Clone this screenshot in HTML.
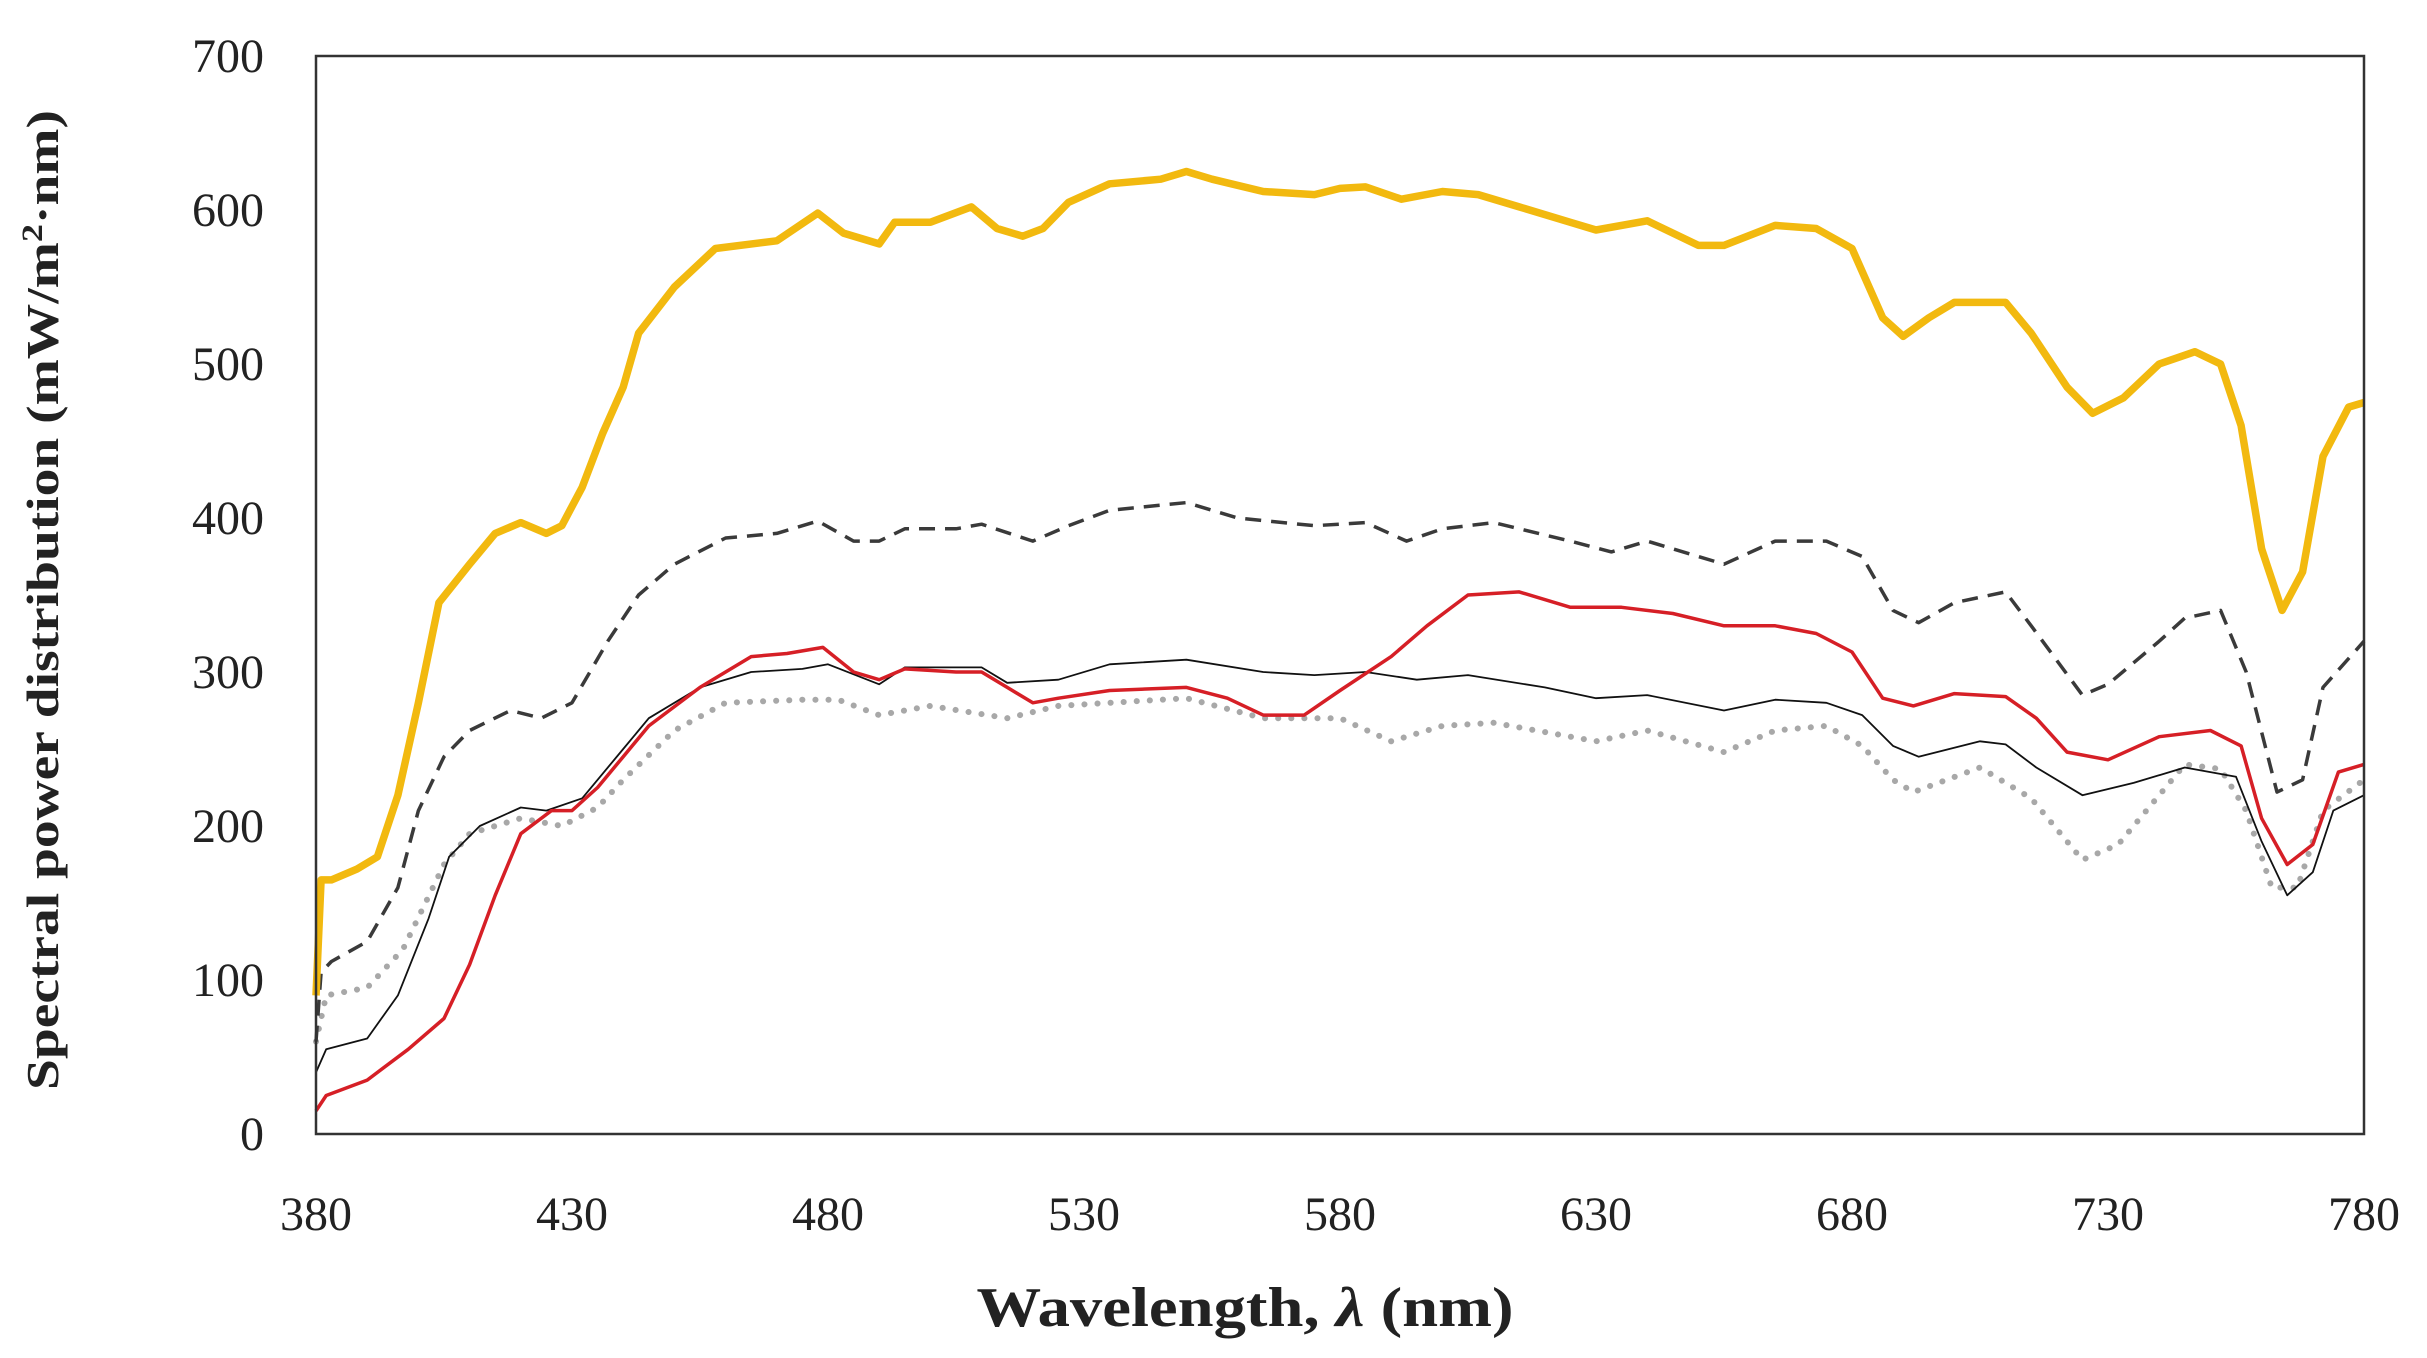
<!DOCTYPE html>
<html><head><meta charset="utf-8"><style>
body{margin:0;background:#fff}
svg{display:block}
text{font-family:"Liberation Serif",serif;fill:#222}
</style></head><body>
<svg id="chart" width="2427" height="1358" viewBox="0 0 2427 1358" xmlns="http://www.w3.org/2000/svg">
<rect x="0" y="0" width="2427" height="1358" fill="#fff"/>
<g id="series"></g>
<rect x="316" y="56" width="2048" height="1078" fill="none" stroke="#333" stroke-width="2.5"/>
<g id="ticks"></g>
<text x="1245" y="1326" text-anchor="middle" font-size="56" font-weight="bold" textLength="537" lengthAdjust="spacingAndGlyphs">Wavelength, <tspan font-style="italic">λ</tspan> (nm)</text>
<text transform="translate(58,600) rotate(-90)" text-anchor="middle" font-size="46" font-weight="bold" textLength="980" lengthAdjust="spacingAndGlyphs">Spectral power distribution (mW/m<tspan baseline-shift="super" font-size="30">2</tspan>·nm)</text>
</svg>
<script>
const xTicks=[380,430,480,530,580,630,680,730,780];
const yTicks=[0,100,200,300,400,500,600,700];
const yellowWl=[380,381,383,388,392,396,400,404,410,415,420,425,428,432,436,440,443,450,458,470,478,483,490,493,500,508,513,518,522,527,535,545,550,555,565,575,580,585,592,600,607,615,625,630,640,650,655,665,673,680,686,690,695,700,710,715,722,727,733,740,747,752,756,760,764,768,772,777,780];
const yellowVal=[90,165,165,172,180,220,280,345,370,390,397,390,395,420,455,485,520,550,575,580,598,585,578,592,592,602,588,583,588,605,617,620,625,620,612,610,614,615,607,612,610,602,592,587,593,577,577,590,588,575,530,518,530,540,540,520,485,468,478,500,508,500,460,380,340,365,440,472,475];
const dashWl=[380,381,383,390,396,400,405,410,418,424,430,437,443,450,460,470,478,485,490,495,505,510,520,527,535,550,560,575,585,593,600,610,625,633,640,655,665,675,682,688,693,700,710,715,725,730,740,745,752,757,763,768,772,780];
const dashVal=[60,105,112,125,160,210,245,262,275,270,280,320,350,370,387,390,398,385,385,393,393,396,385,395,405,410,400,395,397,385,393,397,385,378,385,370,385,385,375,340,332,345,352,330,285,292,320,335,340,300,222,230,290,320];
const redWl=[380,382,390,398,405,410,415,420,426,430,435,440,445,455,465,472,479,485,490,495,505,510,515,520,525,535,550,558,565,573,580,590,597,605,615,625,635,645,655,665,673,680,686,692,700,710,716,722,730,740,750,756,760,765,770,775,780];
const redVal=[15,25,35,55,75,110,155,195,210,210,225,245,265,290,310,312,316,300,295,302,300,300,290,280,283,288,290,283,272,272,288,310,330,350,352,342,342,338,330,330,325,313,283,278,286,284,270,248,243,258,262,252,205,175,188,235,240];
const blackWl=[380,382,390,396,402,406,412,420,425,432,440,445,455,465,475,480,490,495,510,515,525,535,550,565,575,585,595,605,620,630,640,655,665,675,682,688,693,705,710,716,725,735,745,755,760,765,770,774,780];
const blackVal=[40,55,62,90,140,180,200,212,210,218,250,270,290,300,302,305,292,303,303,293,295,305,308,300,298,300,295,298,290,283,285,275,282,280,272,252,245,255,253,238,220,228,238,232,190,155,170,210,220];
const dotWl=[380,382,390,397,405,410,420,428,435,440,450,460,475,482,490,500,515,525,535,550,565,580,590,600,610,630,640,655,665,675,682,688,692,705,715,725,732,740,745,752,757,762,767,772,780];
const dotVal=[60,90,95,120,175,195,205,200,212,230,262,280,282,282,272,278,270,278,280,283,270,270,255,265,267,255,262,248,262,265,252,230,222,238,218,178,188,220,240,237,210,160,160,210,230];
const X0=316,X1=2364,Y0=1134,Y1=56;
const sx=w=>X0+(w-380)/400*(X1-X0);
const sy=v=>Y0-v/700*(Y0-Y1);
const NS="http://www.w3.org/2000/svg";
const sg=document.getElementById('series');
function line(wl,vals,name,stroke,width,dash,cap){
  const p=document.createElementNS(NS,'polyline');
  p.setAttribute('points',wl.map((w,i)=>sx(w).toFixed(1)+','+sy(vals[i]).toFixed(1)).join(' '));
  p.setAttribute('fill','none');p.setAttribute('stroke',stroke);p.setAttribute('stroke-width',width);
  p.setAttribute('stroke-linejoin','round');p.setAttribute('stroke-linecap',cap||'butt');
  if(dash)p.setAttribute('stroke-dasharray',dash);
  
  
  sg.appendChild(p);
}
line(dotWl,dotVal,'series-dotted-grey','#a8a8a8',6,'0.1 13','round');
line(blackWl,blackVal,'series-thin-black','#111',1.8);
line(redWl,redVal,'series-red','#d61f26',3.5);
line(dashWl,dashVal,'series-dashed','#3a3a3a',3.5,'16 10');
line(yellowWl,yellowVal,'series-yellow','#f2b90f',7.5);
const tg=document.getElementById('ticks');
xTicks.forEach(t=>{
  const e=document.createElementNS(NS,'text');
  e.setAttribute('x',sx(t));e.setAttribute('y',1230);e.setAttribute('text-anchor','middle');e.setAttribute('font-size','48');
  e.textContent=t;
  
  
  tg.appendChild(e);
});
yTicks.forEach(t=>{
  const e=document.createElementNS(NS,'text');
  e.setAttribute('x',264);e.setAttribute('y',sy(t)+16);e.setAttribute('text-anchor','end');e.setAttribute('font-size','48');
  e.textContent=t;
  
  
  tg.appendChild(e);
});
</script>
</body></html>
